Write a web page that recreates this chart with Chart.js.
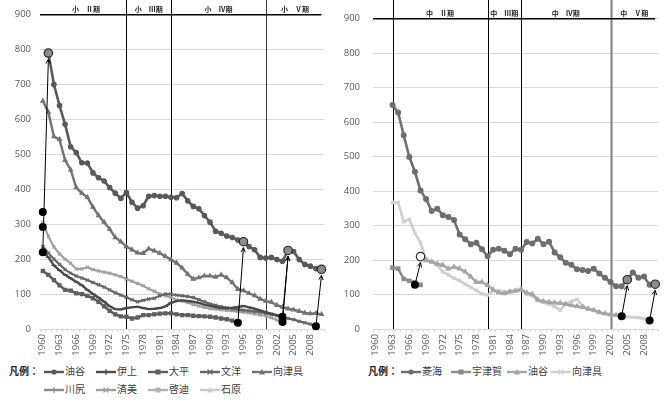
<!DOCTYPE html>
<html>
<head>
<meta charset="utf-8">
<script src="https://cdn.jsdelivr.net/npm/chart.js@4.4.1/dist/chart.umd.min.js"></script>
<style>
  html, body { margin: 0; padding: 0; background: #fff; }
  body { width: 670px; height: 405px; position: relative; overflow: hidden;
         font-family: "Noto Sans CJK JP", "Noto Sans", sans-serif; }
  .panel { position: absolute; top: 0; width: 335px; height: 360px; }
  #panelL { left: 0; }
  #panelR { left: 335px; }
  .legend { position: absolute; font-size: 10px; color: #404040; line-height: 12px; }
  .legend .head { position: absolute; font-weight: bold; color: #262626; }
  .legend .item { position: absolute; white-space: nowrap; }
  .legend svg { vertical-align: middle; margin-right: 1px; }
</style>
</head>
<body>
<div class="panel" id="panelL"><canvas id="chartL" width="335" height="360"></canvas></div>
<div class="panel" id="panelR"><canvas id="chartR" width="335" height="360"></canvas></div>
<div class="legend" id="legendL" style="left:0;top:363px;width:335px;height:40px"></div>
<div class="legend" id="legendR" style="left:335px;top:363px;width:335px;height:20px"></div>
<script>
// ---- categories ----
const years = ['1960','1961','1962','1963','1964','1965','1966','1967','1968','1969',
  '1970','1971','1972','1973','1974','1975','1976','1977','1978','1979',
  '1980','1981','1982','1983','1984','1985','1986','1987','1988','1989',
  '1990','1991','1992','1993','1994','1995','1996','1997','1998','1999',
  '2000','2001','2002','2003','2004','2005','2006','2007','2008','2009','2010'];
const yTicks = [0, 100, 200, 300, 400, 500, 600, 700, 800, 900];

// ---- elementary schools (1960-2010) ----
const shoYuya = [null,790,700,640,586,522,505,476,475,447,
  433,424,405,389,374,391,363,346,353,380,
  382,380,380,377,376,388,367,351,344,325,
  306,280,274,266,262,255,250,236,227,205,
  203,205,199,194,225,222,199,185,180,173,171];
const shoIgami = [225,205,182,168,155,145,135,125,112,100,
  90,78,65,57,56,60,62,64,60,57,
  58,60,65,75,80,82,80,78,75,70,
  66,63,60,60,61,63,66,62,58,53,
  48,44,40,35,null,null,null,null,null,null,null];
const shoOhira = [166,155,140,125,112,110,102,100,95,88,
  78,65,52,42,36,35,30,33,40,40,
  42,44,45,45,42,40,40,38,37,36,
  35,33,30,28,24,18,null,null,null,null,
  null,null,null,null,null,null,null,null,null,null,null];
const shoBunyo = [236,218,200,185,170,160,152,146,140,133,
  127,120,112,104,97,91,84,78,82,86,
  88,95,100,100,97,95,93,90,84,78,
  72,68,64,60,58,56,54,52,50,48,
  45,42,38,33,30,27,22,18,14,8,null];
const shoMukatsuku = [653,621,551,543,483,456,405,389,377,349,
  325,306,286,262,250,236,227,218,217,230,
  224,217,208,199,189,175,157,143,147,152,
  152,149,155,147,133,114,110,102,96,86,
  80,77,68,63,58,55,51,46,44,45,42];
const shoKawajiri = [292,null,null,null,null,null,null,null,null,null,
  null,null,null,null,null,null,null,null,null,null,
  null,null,null,null,null,null,null,null,null,null,
  null,null,null,null,null,null,null,null,null,null,
  null,null,null,null,null,null,null,null,null,null,null];
const shoSeibi = [306,265,235,215,200,188,172,172,177,170,
  166,163,160,155,150,143,137,130,124,115,
  108,100,95,90,84,80,76,70,66,62,
  58,57,55,53,52,50,48,46,43,40,
  38,32,26,20,null,null,null,null,null,null,null];
const shoKeiteki = [220,null,null,null,null,null,null,null,null,null,
  null,null,null,null,null,null,null,null,null,null,
  null,null,null,null,null,null,null,null,null,null,
  null,null,null,null,null,null,null,null,null,null,
  null,null,null,null,null,null,null,null,null,null,null];
const shoIshihara = [335,null,null,null,null,null,null,null,null,null,
  null,null,null,null,null,null,null,null,null,null,
  null,null,null,null,null,null,null,null,null,null,
  null,null,null,null,null,null,null,null,null,null,
  null,null,null,null,null,null,null,null,null,null,null];

// merges into 油谷小: [year, value] of the absorbed schools, and arrows to the merged school
const shoMergeDots = [['1960',335],['1960',292],['1960',220],['1995',18],['2003',35],['2003',20],['2009',8]];
const shoMergeArrows = [['1960',220,'1961',790],['1995',18,'1996',250],['2003',35,'2004',225],
  ['2003',20,'2004',225],['2009',8,'2010',171]];
const shoMergeTargets = [['1961',790],['1996',250],['2004',225],['2010',171]];
const shoPeriodLines = ['1975','1983','2000'];
const shoPeriods = [['小　Ⅱ期',0.5,15],['小　Ⅲ期',15,23],['小　Ⅳ期',23,40],['小　Ⅴ期',40,50.5]];

// ---- junior high schools (1960-2010) ----
const chuRyokai = [null,null,null,650,628,562,499,456,402,377,
  342,349,330,325,316,274,260,246,250,231,
  211,230,233,227,217,233,230,252,248,262,
  246,253,222,208,192,186,173,171,168,175,
  161,149,136,124,124,143,164,149,152,128,130];
const chuUtsuka = [null,null,null,178,175,145,140,135,128,null,
  null,null,null,null,null,null,null,null,null,null,
  null,null,null,null,null,null,null,null,null,null,
  null,null,null,null,null,null,null,null,null,null,
  null,null,null,null,null,null,null,null,null,null,null];
const chuYuya = [null,null,null,null,null,null,null,null,210,199,
  195,189,185,175,180,175,166,152,136,136,
  127,114,105,103,108,110,114,105,101,85,
  80,78,76,75,72,68,66,63,58,55,
  48,45,42,40,37,null,null,null,null,null,null];
const chuMukatsuku = [null,null,null,367,367,311,318,278,250,203,
  194,185,166,157,147,140,130,121,112,102,
  98,110,112,108,110,112,116,100,96,82,
  77,72,65,55,72,80,86,68,60,53,
  48,44,42,40,38,35,34,33,30,25,null];

const chuMergeDots = [['1967',128],['2004',37],['2009',25]];
const chuMergeArrows = [['1967',128,'1968',210],['2004',37,'2005',143],['2009',25,'2010',130]];
const chuMergeTargets = [['1968',210,true],['2005',143,false],['2010',130,false]];
const chuPeriodLines = ['1963','1980','1986','2002'];
const chuPeriods = [['中　Ⅱ期',3,20],['中　Ⅲ期',20,26],['中　Ⅳ期',26,42],['中　Ⅴ期',42,50.5]];

// ---- drawing helpers ----
const TICK_FONT = { family: '"Open Sans", "Noto Sans", sans-serif', size: 9.5 };

function ds(label, data, color, style, radius, lineWidth) {
  return {
    label, data,
    borderColor: color, backgroundColor: color,
    pointBorderColor: color, pointBackgroundColor: color,
    pointStyle: style, pointRadius: radius, pointBorderWidth: 1.2,
    borderWidth: lineWidth, tension: 0, spanGaps: false
  };
}

function arrowHead(ctx, x0, y0, x1, y1) {
  const ang = Math.atan2(y1 - y0, x1 - x0);
  const len = 5;
  ctx.beginPath();
  ctx.moveTo(x1 - len * Math.cos(ang - 0.45), y1 - len * Math.sin(ang - 0.45));
  ctx.lineTo(x1, y1);
  ctx.lineTo(x1 - len * Math.cos(ang + 0.45), y1 - len * Math.sin(ang + 0.45));
  ctx.stroke();
}

function decorations(cfg) {
  return {
    id: 'decorations',
    beforeDatasetsDraw(chart) {
      const { ctx, chartArea: a, scales: { x, y } } = chart;
      ctx.save();
      // period separators, running up to the top edge
      cfg.lines.forEach((yr, i) => {
        const px = Math.round(x.getPixelForValue(years.indexOf(yr))) + 0.5;
        const isLast = i === cfg.lines.length - 1;
        const gray = cfg.lastLineGray && isLast;
        ctx.strokeStyle = gray ? '#7f7f7f' : (cfg.lastLineDark && isLast ? '#3a3a3a' : '#000');
        ctx.lineWidth = gray ? 2 : 1;
        ctx.beginPath();
        ctx.moveTo(px, 0);
        ctx.lineTo(px, y.getPixelForValue(0));
        ctx.stroke();
      });
      // top rule
      ctx.strokeStyle = '#000';
      ctx.lineWidth = 1.5;
      ctx.beginPath();
      const ty = y.getPixelForValue(900);
      ctx.moveTo(a.left, ty);
      ctx.lineTo(a.right - 3, ty);
      ctx.stroke();
      // period captions
      ctx.fillStyle = '#262626';
      ctx.font = 'bold 7px "Noto Sans CJK JP"';
      ctx.textAlign = 'center';
      ctx.textBaseline = 'middle';
      const step = x.getPixelForValue(1) - x.getPixelForValue(0);
      cfg.periods.forEach(([t, s, e]) => {
        const cx = x.getPixelForValue(0) + step * (s + e) / 2;
        ctx.fillText(t, cx, ty - 5);
      });
      ctx.restore();
    },
    afterDatasetsDraw(chart) {
      const { ctx, scales: { x, y } } = chart;
      const px = v => x.getPixelForValue(years.indexOf(v));
      ctx.save();
      ctx.strokeStyle = '#000';
      ctx.lineWidth = 1;
      cfg.arrows.forEach(([fy, fv, ty, tv]) => {
        const x0 = px(fy), y0 = y.getPixelForValue(fv);
        const x1 = px(ty), y1 = y.getPixelForValue(tv) + 6;
        ctx.beginPath();
        ctx.moveTo(x0, y0);
        ctx.lineTo(x1, y1);
        ctx.stroke();
        arrowHead(ctx, x0, y0, x1, y1);
      });
      cfg.dots.forEach(([yr, v]) => {
        ctx.fillStyle = '#000';
        ctx.beginPath();
        ctx.arc(px(yr), y.getPixelForValue(v), 4, 0, Math.PI * 2);
        ctx.fill();
      });
      cfg.targets.forEach(([yr, v, open]) => {
        ctx.fillStyle = open ? '#fff' : '#8c8c8c';
        ctx.strokeStyle = '#262626';
        ctx.lineWidth = 1.2;
        ctx.beginPath();
        ctx.arc(px(yr), y.getPixelForValue(v), 4.2, 0, Math.PI * 2);
        ctx.fill();
        ctx.stroke();
      });
      ctx.restore();
    }
  };
}

function makeChart(id, datasets, cfg, leftWidth, padRight) {
  return new Chart(document.getElementById(id), {
    type: 'line',
    data: { labels: years, datasets },
    options: {
      responsive: false,
      animation: false,
      devicePixelRatio: 1,
      layout: { padding: { top: 9, right: padRight, left: 0, bottom: 0 } },
      plugins: { legend: { display: false }, tooltip: { enabled: false } },
      scales: {
        x: {
          offset: true,
          grid: { display: true, drawOnChartArea: false, drawTicks: true, tickLength: 3, color: '#d9d9d9', offset: true },
          border: { color: '#d9d9d9', width: 1 },
          ticks: {
            autoSkip: false, maxRotation: 90, minRotation: 90, padding: 2,
            color: '#595959', font: TICK_FONT,
            callback: (v, i) => (i % 3 === 0 ? years[i] : '')
          },
          afterFit: s => { s.height = 31; }
        },
        y: {
          min: 0, max: 900,
          afterBuildTicks: s => { s.ticks = yTicks.map(v => ({ value: v })); },
          grid: { color: '#d9d9d9', lineWidth: 1, drawTicks: false },
          border: { display: false },
          ticks: { color: '#595959', font: TICK_FONT, padding: cfg.tickPad },
          afterFit: s => { s.width = leftWidth; }
        }
      }
    },
    plugins: [decorations(cfg)]
  });
}

const dsL = [
  ds('油谷', shoYuya, '#595959', 'circle', 2.2, 2.6),
  ds('伊上', shoIgami, '#4a4a4a', 'line', 2.5, 2.4),
  ds('大平', shoOhira, '#5f5f5f', 'rect', 2.2, 2.6),
  ds('文洋', shoBunyo, '#666666', 'crossRot', 2.2, 2.2),
  ds('向津具', shoMukatsuku, '#737373', 'triangle', 2.2, 2.4),
  ds('川尻', shoKawajiri, '#8a8a8a', 'line', 2.5, 2.4),
  ds('済美', shoSeibi, '#a0a0a0', 'crossRot', 2.2, 2.2),
  ds('啓迪', shoKeiteki, '#b3b3b3', 'rect', 2.2, 2.4),
  ds('石原', shoIshihara, '#cccccc', 'triangle', 2.2, 2.2)
];
const dsR = [
  ds('菱海', chuRyokai, '#6e6e6e', 'circle', 2.4, 2.6),
  ds('宇津賀', chuUtsuka, '#8c8c8c', 'rect', 2.4, 2.6),
  ds('油谷', chuYuya, '#a6a6a6', 'triangle', 2.4, 2.6),
  ds('向津具', chuMukatsuku, '#cfcfcf', 'crossRot', 2.4, 2.6)
];

makeChart('chartL', dsL, { lines: shoPeriodLines, periods: shoPeriods, dots: shoMergeDots,
  arrows: shoMergeArrows, targets: shoMergeTargets, tickPad: 9, lastLineGray: false, lastLineDark: true }, 40, 10);
makeChart('chartR', dsR, { lines: chuPeriodLines, periods: chuPeriods, dots: chuMergeDots,
  arrows: chuMergeArrows, targets: chuMergeTargets, tickPad: 13, lastLineGray: true }, 38, 12);

// ---- legends ----
function symbol(d) {
  const c = d.borderColor;
  let m = '';
  switch (d.pointStyle) {
    case 'circle': m = `<circle cx="10" cy="4" r="2.6" fill="${c}"/>`; break;
    case 'rect': m = `<rect x="7.5" y="1.5" width="5" height="5" fill="${c}"/>`; break;
    case 'triangle': m = `<polygon points="10,0.8 13,6.5 7,6.5" fill="${c}"/>`; break;
    case 'crossRot': m = `<path d="M7.5 1.5L12.5 6.5M12.5 1.5L7.5 6.5" stroke="${c}" stroke-width="1.2"/>`; break;
    default: m = `<path d="M10 1V7" stroke="${c}" stroke-width="1.2"/>`;
  }
  return `<svg width="20" height="8"><line x1="0" y1="4" x2="20" y2="4" stroke="${c}" stroke-width="2.4"/>${m}</svg>`;
}
function buildLegend(el, datasets, headX, positions, rows) {
  el.innerHTML = `<span class="head" style="left:${headX}px;top:2px">凡例：</span>` +
    datasets.map((d, i) => `<span class="item" style="left:${positions[i]}px;top:${rows[i]}px">${symbol(d)}${d.label}</span>`).join('');
}
buildLegend(document.getElementById('legendL'), dsL, 9,
  [44, 96, 148, 200, 252, 44, 96, 148, 200], [2, 2, 2, 2, 2, 20, 20, 20, 20]);
buildLegend(document.getElementById('legendR'), dsR, 33,
  [66, 116, 172, 216], [2, 2, 2, 2]);
</script>
</body>
</html>
